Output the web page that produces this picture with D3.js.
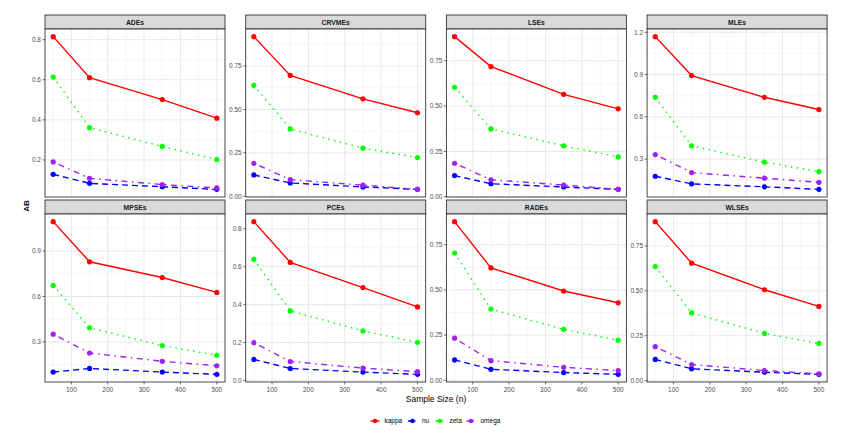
<!DOCTYPE html>
<html>
<head>
<meta charset="utf-8">
<script src="https://cdn.jsdelivr.net/npm/d3@7"></script>
<style>
  body { margin: 0; background: #fff; }
  text { font-family: "Liberation Sans", Arial, sans-serif; }
</style>
</head>
<body>
<svg id="chart" width="844" height="437"></svg>
<script>
// sample sizes and panels
const sizes = [50, 150, 350, 500];
const estimators = ["ADEs", "CRVMEs", "LSEs", "MLEs", "MPSEs", "PCEs", "RADEs", "WLSEs"];
const params = ["kappa", "nu", "zeta", "omega"];

// AB values, one row per estimator (same order as estimators)
const kappaAB = [
  [0.815, 0.610, 0.501, 0.408],
  [0.919, 0.696, 0.561, 0.481],
  [0.883, 0.718, 0.565, 0.485],
  [1.169, 0.893, 0.739, 0.652],
  [1.094, 0.829, 0.725, 0.627],
  [0.838, 0.623, 0.490, 0.388],
  [0.878, 0.622, 0.494, 0.429],
  [0.885, 0.654, 0.506, 0.413]
];
const nuAB = [
  [0.128, 0.083, 0.066, 0.053],
  [0.123, 0.077, 0.054, 0.040],
  [0.117, 0.072, 0.054, 0.041],
  [0.179, 0.125, 0.104, 0.086],
  [0.101, 0.125, 0.101, 0.086],
  [0.111, 0.063, 0.044, 0.032],
  [0.113, 0.061, 0.043, 0.033],
  [0.118, 0.066, 0.047, 0.035]
];
const zetaAB = [
  [0.613, 0.361, 0.267, 0.202],
  [0.639, 0.388, 0.277, 0.223],
  [0.604, 0.374, 0.281, 0.220],
  [0.739, 0.395, 0.279, 0.212],
  [0.673, 0.393, 0.276, 0.212],
  [0.639, 0.367, 0.261, 0.201],
  [0.704, 0.394, 0.282, 0.222],
  [0.635, 0.377, 0.263, 0.207]
];
const omegaAB = [
  [0.190, 0.108, 0.077, 0.060],
  [0.190, 0.096, 0.064, 0.040],
  [0.185, 0.094, 0.065, 0.041],
  [0.333, 0.205, 0.165, 0.136],
  [0.351, 0.227, 0.172, 0.143],
  [0.199, 0.100, 0.065, 0.046],
  [0.233, 0.109, 0.072, 0.054],
  [0.189, 0.090, 0.056, 0.038]
];

// y tick labels per panel (free y scales)
const yTickLabels = [
  ["0.2", "0.4", "0.6", "0.8"],
  ["0.00", "0.25", "0.50", "0.75"],
  ["0.00", "0.25", "0.50", "0.75"],
  ["0.3", "0.6", "0.9", "1.2"],
  ["0.3", "0.6", "0.9"],
  ["0.0", "0.2", "0.4", "0.6", "0.8"],
  ["0.00", "0.25", "0.50", "0.75"],
  ["0.00", "0.25", "0.50", "0.75"]
];
const xTicks = [100, 200, 300, 400, 500];
const xMinor = [50, 150, 250, 350, 450];

const seriesData = { kappa: kappaAB, nu: nuAB, zeta: zetaAB, omega: omegaAB };
const colors = { kappa: "#FF0000", nu: "#0000FF", zeta: "#00FF00", omega: "#A020F0" };
const dashes = { kappa: null, nu: "6,4", zeta: "1.5,4.5", omega: "1.5,4.5,6,4.5" };

const svg = d3.select("#chart");

const left = 45, colStep = 200.7, panelW = 180;
const top0 = 15, rowStep = 185, stripH = 14, panelH = 168;

const x = d3.scaleLinear().domain([27.5, 522.5]).range([0, panelW]);

estimators.forEach((est, i) => {
  const col = i % 4, row = Math.floor(i / 4);
  const g = svg.append("g")
    .attr("transform", `translate(${left + col * colStep},${top0 + row * rowStep})`);

  // strip
  g.append("rect")
    .attr("x", 0).attr("y", 0)
    .attr("width", panelW).attr("height", stripH)
    .attr("fill", "#D9D9D9").attr("stroke", "#333").attr("stroke-width", 0.9);
  g.append("text")
    .attr("x", panelW / 2).attr("y", stripH / 2 + 2.5)
    .attr("text-anchor", "middle")
    .attr("font-size", 6.8).attr("font-weight", "bold").attr("fill", "#1A1A1A")
    .text(est);

  const p = g.append("g").attr("transform", `translate(0,${stripH})`);

  // y scale from the data with ggplot's 5% expansion
  const all = params.flatMap(k => seriesData[k][i]);
  const lo = d3.min(all), hi = d3.max(all), pad = (hi - lo) * 0.05;
  const y = d3.scaleLinear().domain([lo - pad, hi + pad]).range([panelH, 0]);

  const yTicks = yTickLabels[i].map(Number);
  const step = yTicks[1] - yTicks[0];
  const yMinor = [];
  for (let v = yTicks[0] - step / 2; v <= y.domain()[1]; v += step) {
    if (v >= y.domain()[0]) yMinor.push(v);
  }

  p.append("rect")
    .attr("width", panelW).attr("height", panelH).attr("fill", "#fff");

  // grid
  p.selectAll(".ymin").data(yMinor).join("line")
    .attr("x1", 0).attr("x2", panelW)
    .attr("y1", d => y(d)).attr("y2", d => y(d))
    .attr("stroke", "#F0F0F0").attr("stroke-width", 0.6);
  p.selectAll(".xmin").data(xMinor).join("line")
    .attr("y1", 0).attr("y2", panelH)
    .attr("x1", d => x(d)).attr("x2", d => x(d))
    .attr("stroke", "#F0F0F0").attr("stroke-width", 0.6);
  p.selectAll(".ymaj").data(yTicks).join("line")
    .attr("x1", 0).attr("x2", panelW)
    .attr("y1", d => y(d)).attr("y2", d => y(d))
    .attr("stroke", "#E8E8E8").attr("stroke-width", 1);
  p.selectAll(".xmaj").data(xTicks).join("line")
    .attr("y1", 0).attr("y2", panelH)
    .attr("x1", d => x(d)).attr("x2", d => x(d))
    .attr("stroke", "#E8E8E8").attr("stroke-width", 1);

  // lines
  const line = d3.line().x((d, j) => x(sizes[j])).y(d => y(d));
  params.forEach(k => {
    p.append("path")
      .datum(seriesData[k][i])
      .attr("d", line)
      .attr("fill", "none")
      .attr("stroke", colors[k])
      .attr("stroke-width", 1.4)
      .attr("stroke-dasharray", dashes[k]);
  });
  params.forEach(k => {
    p.selectAll(".pt-" + k).data(seriesData[k][i]).join("circle")
      .attr("cx", (d, j) => x(sizes[j]))
      .attr("cy", d => y(d))
      .attr("r", 2.6)
      .attr("fill", colors[k]);
  });

  // border
  p.append("rect")
    .attr("width", panelW).attr("height", panelH)
    .attr("fill", "none").attr("stroke", "#333").attr("stroke-width", 0.9);

  // y axis
  p.selectAll(".ytk").data(yTicks).join("line")
    .attr("x1", -2.5).attr("x2", 0)
    .attr("y1", d => y(d)).attr("y2", d => y(d))
    .attr("stroke", "#333").attr("stroke-width", 0.7);
  p.selectAll(".ylab").data(yTickLabels[i]).join("text")
    .attr("x", -4).attr("y", d => y(+d) + 2.3)
    .attr("text-anchor", "end")
    .attr("font-size", 6.5).attr("fill", "#4D4D4D")
    .text(d => d);

  // x axis, bottom row only
  if (row === 1) {
    p.selectAll(".xtk").data(xTicks).join("line")
      .attr("x1", d => x(d)).attr("x2", d => x(d))
      .attr("y1", panelH).attr("y2", panelH + 2.5)
      .attr("stroke", "#333").attr("stroke-width", 0.7);
    p.selectAll(".xlab").data(xTicks).join("text")
      .attr("x", d => x(d)).attr("y", panelH + 9.5)
      .attr("text-anchor", "middle")
      .attr("font-size", 6.5).attr("fill", "#4D4D4D")
      .text(d => d);
  }
});

// axis titles
svg.append("text")
  .attr("x", 436).attr("y", 402)
  .attr("text-anchor", "middle")
  .attr("font-size", 8.5).attr("fill", "#000")
  .text("Sample Size (n)");
svg.append("text")
  .attr("transform", "translate(29,206) rotate(-90)")
  .attr("text-anchor", "middle")
  .attr("font-size", 8).attr("font-weight", "bold").attr("fill", "#000")
  .text("AB");

// legend
const legendX = [375, 412.5, 440, 471];
const legend = svg.append("g").attr("transform", "translate(0,421)");
params.forEach((k, j) => {
  const cx = legendX[j];
  legend.append("line")
    .attr("x1", cx - 4.5).attr("x2", cx + 4.5)
    .attr("stroke", colors[k]).attr("stroke-width", 1.4)
    .attr("stroke-dasharray", dashes[k] ? "3,1.5" : null);
  legend.append("circle")
    .attr("cx", cx).attr("r", 2.3).attr("fill", colors[k]);
  legend.append("text")
    .attr("x", cx + 9.5).attr("y", 2.3)
    .attr("font-size", 6.5).attr("fill", "#000")
    .text(k);
});
</script>
</body>
</html>
